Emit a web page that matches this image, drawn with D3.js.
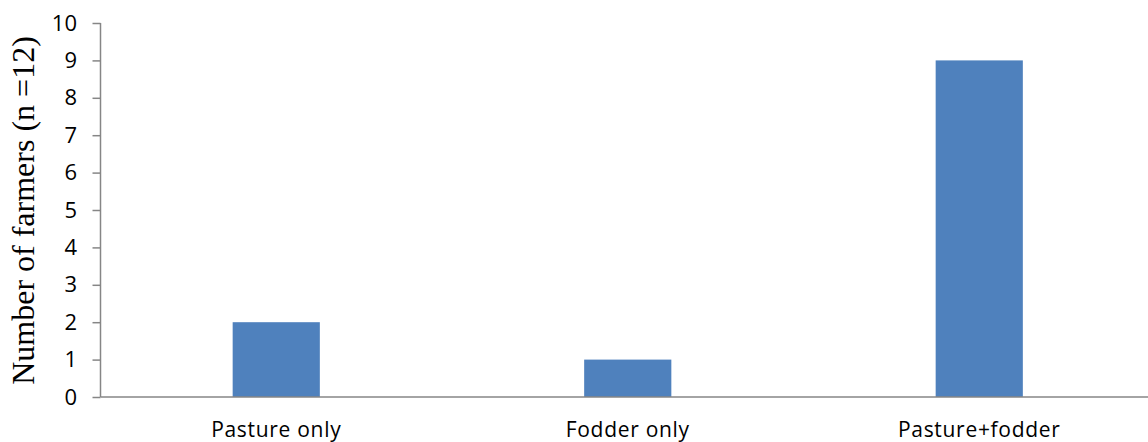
<!DOCTYPE html>
<html><head><meta charset="utf-8">
<script src="https://cdn.jsdelivr.net/npm/d3@7"></script>
<style>body{margin:0;background:#fff}svg{display:block}</style>
</head><body>
<svg id="chart" width="1148" height="442"></svg>
<script>
const categories = ["Pasture only", "Fodder only", "Pasture+fodder"];
const values = [2, 1, 9];
const yTicks = [0,1,2,3,4,5,6,7,8,9,10];
const yTitle = "Number of farmers (n =12)";

(function(){
const svg = d3.select("#chart");
const mLeft = 100.5, mRight = 1155, mTop = 23, mBottom = 397;

const x = d3.scaleBand().domain(categories).range([mLeft, mRight])
  .paddingInner(0.752).paddingOuter(0.376);
const y = d3.scaleLinear().domain([0, 10]).range([mBottom, mTop]);

svg.append("g").selectAll("rect").data(values).join("rect")
  .attr("x", (d,i) => x(categories[i]))
  .attr("width", x.bandwidth())
  .attr("y", d => y(d))
  .attr("height", d => y(0) - y(d))
  .attr("fill", "#4F81BD");

const yAxis = svg.append("g").attr("transform", `translate(${mLeft},0)`)
  .call(d3.axisLeft(y).tickValues(yTicks).tickSize(8).tickPadding(15).tickFormat(d3.format("d")));
yAxis.select(".domain").attr("stroke", "#868686").attr("stroke-width", 1.5).attr("d", `M0,${mTop}V${mBottom}`);
yAxis.selectAll(".tick line").attr("stroke", "#868686").attr("stroke-width", 1.5);
yAxis.selectAll(".tick text").attr("font-family", "'Open Sans', sans-serif").attr("font-size", 22)
  .attr("letter-spacing", "0.3px").attr("fill", "#000");

const xAxis = svg.append("g").attr("transform", `translate(0,${mBottom})`)
  .call(d3.axisBottom(x).tickSize(0).tickPadding(25));
xAxis.select(".domain").attr("stroke", "#868686").attr("stroke-width", 1.5).attr("d", `M${mLeft},0H${mRight}`);
xAxis.selectAll(".tick text").attr("font-family", "'Open Sans', sans-serif").attr("font-size", 21)
  .attr("letter-spacing", "0.7px").attr("fill", "#000");

svg.append("text")
  .attr("transform", `translate(34,${(38+383)/2}) rotate(-90)`)
  .attr("text-anchor", "middle")
  .attr("font-family", "'Liberation Serif', 'Times New Roman', serif")
  .attr("font-size", 32)
  .attr("fill", "#000")
  .text(yTitle);
})();
</script>
</body></html>
